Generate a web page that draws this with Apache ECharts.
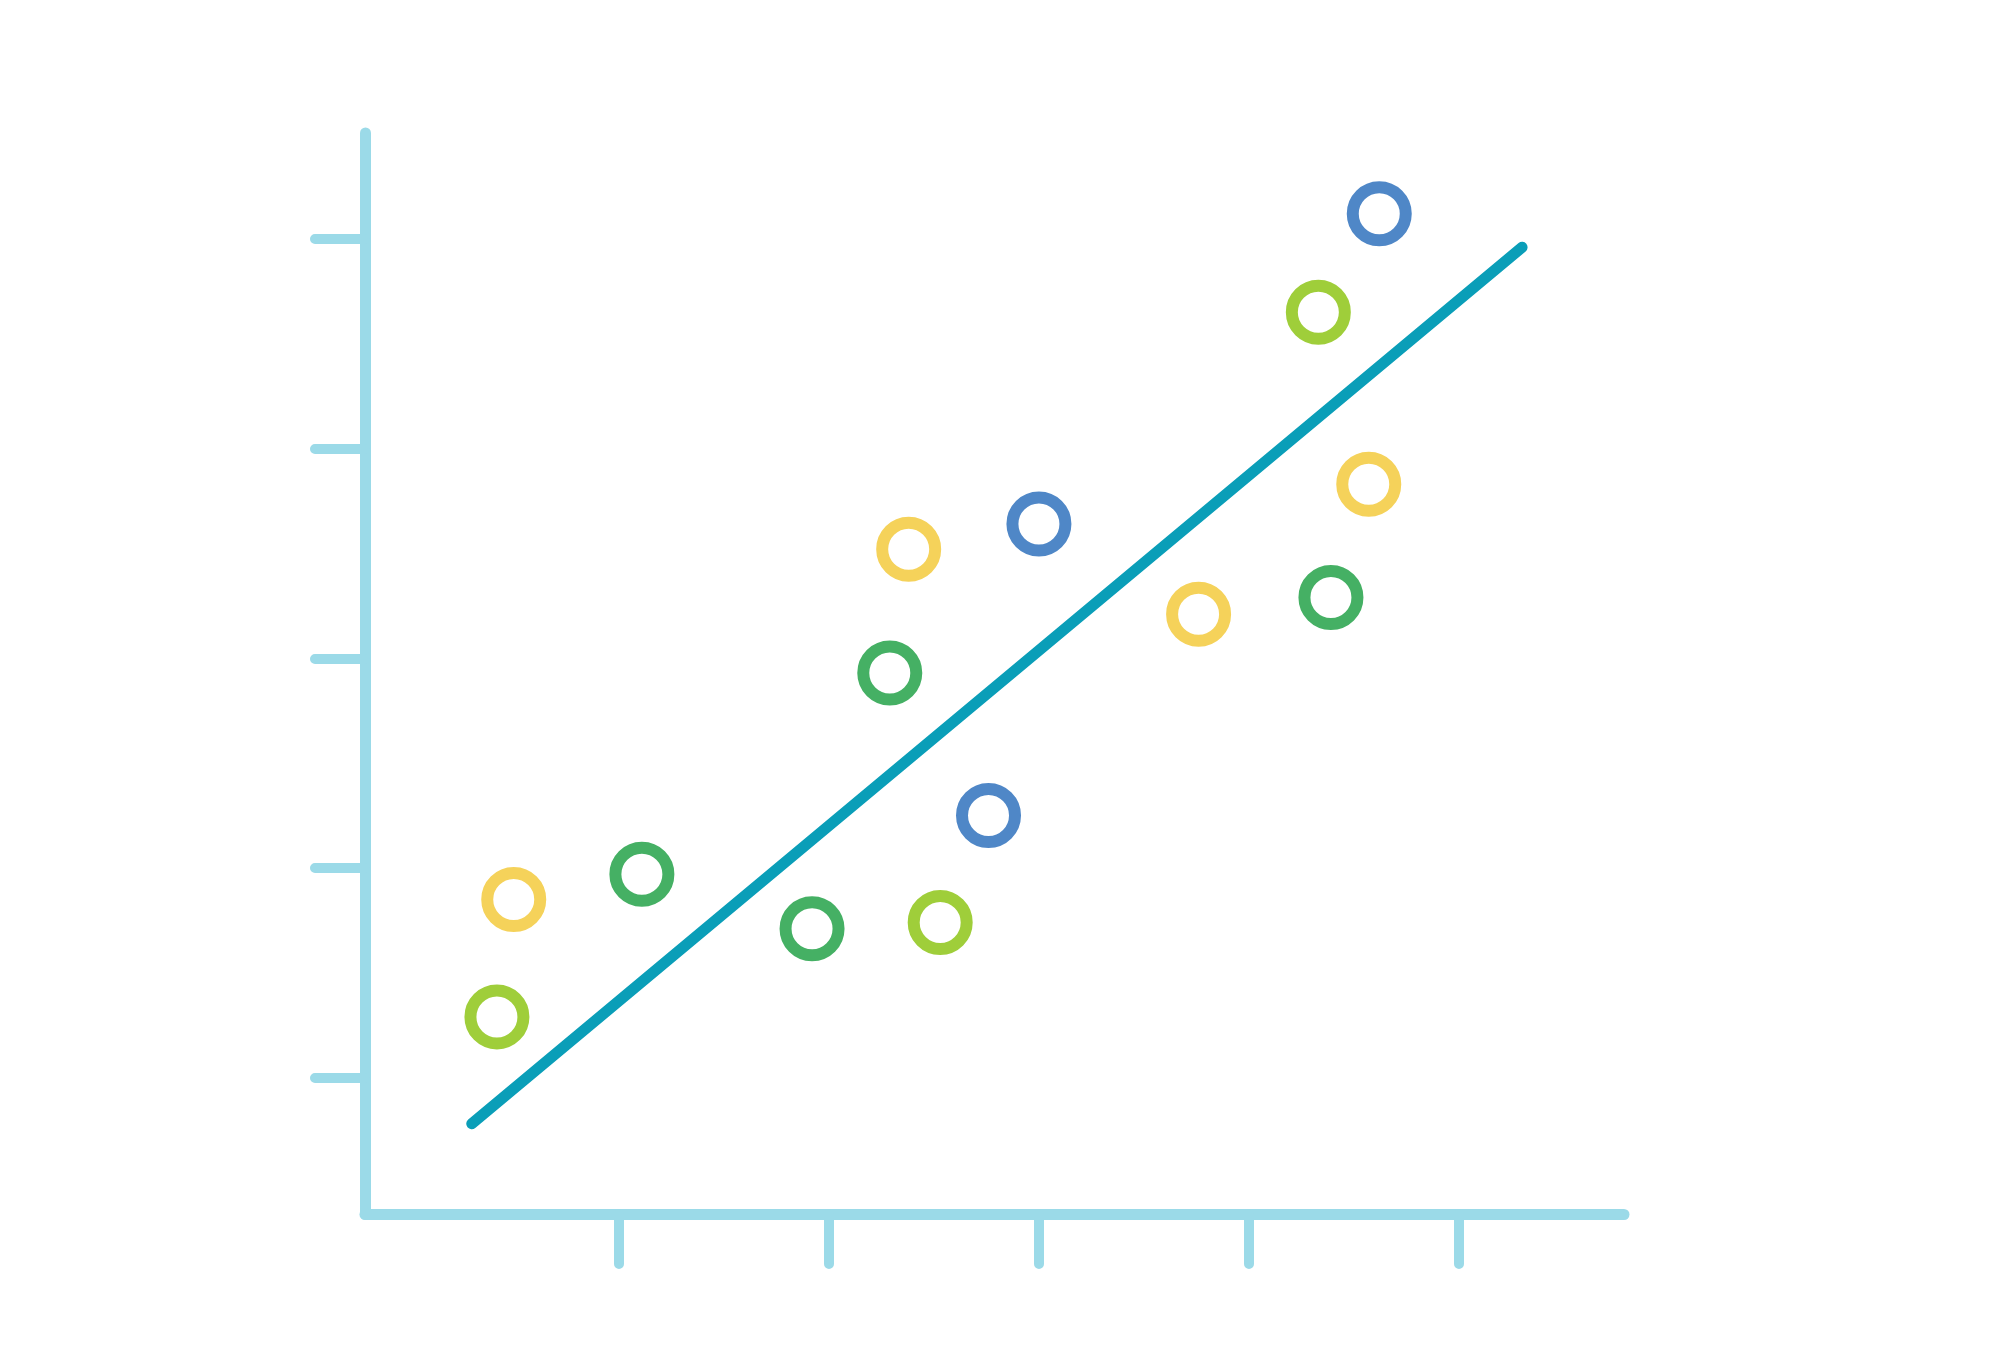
<!DOCTYPE html>
<html>
<head>
<meta charset="utf-8">
<script src="https://cdn.jsdelivr.net/npm/echarts@6/dist/echarts.min.js"></script>
<style>html,body{margin:0;padding:0;background:#fff}#chart{width:2000px;height:1370px}</style>
</head>
<body>
<div id="chart"></div>
<script>
// values
const yellowPts = [[0.50, 1.85], [2.38, 3.52], [3.76, 3.21], [4.57, 3.83]];
const limePts = [[0.42, 1.29], [2.53, 1.74], [4.33, 4.65]];
const greenPts = [[1.11, 1.97], [1.92, 1.71], [2.29, 2.93], [4.39, 3.29]];
const bluePts = [[2.76, 2.25], [3.00, 3.64], [4.62, 5.12]];
const trendLine = [[0.30, 0.78], [5.30, 4.96]];
const xTicks = [1, 2, 3, 4, 5];
const yTicks = [1, 2, 3, 4, 5];

const axisColor = '#9BDAE8';

function axis(min, max, ticks) {
    return {
        type: 'value', min: min, max: max,
        splitLine: { show: false },
        axisLine: { show: true, onZero: false, lineStyle: { color: axisColor, width: 11, cap: 'round' } },
        axisTick: { show: true, inside: false, length: 50, customValues: ticks,
            lineStyle: { color: axisColor, width: 10, cap: 'round' } },
        axisLabel: { show: false }
    };
}

function dots(data, color) {
    return {
        type: 'scatter', data: data, symbol: 'circle', symbolSize: 53,
        itemStyle: { color: '#fff', borderColor: color, borderWidth: 12, opacity: 1 },
        z: 3
    };
}

const chart = echarts.init(document.getElementById('chart'));
chart.setOption({
    animation: false,
    grid: { left: 365, top: 133, width: 1259, height: 1081, containLabel: false },
    xAxis: axis(-0.208, 5.785, xTicks),
    yAxis: axis(0.35, 5.505, yTicks),
    series: [
        {
            type: 'line', data: trendLine, symbol: 'none', z: 2,
            lineStyle: { color: '#0A9EB8', width: 11, cap: 'round' }
        },
        dots(yellowPts, '#F5D25A'),
        dots(limePts, '#9FCE3A'),
        dots(greenPts, '#45B064'),
        dots(bluePts, '#4F87C7')
    ]
});
</script>
</body>
</html>
